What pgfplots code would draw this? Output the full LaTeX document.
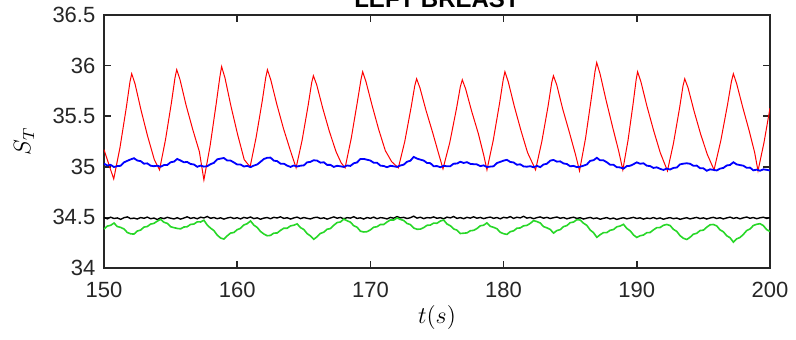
\documentclass[border=0pt]{standalone}
\usepackage[no-math]{fontspec}
\setmainfont{Liberation Sans}
\usepackage{pgfplots}
\usepackage{pgfplotstable}
\pgfplotsset{compat=1.18}
\definecolor{axgray}{RGB}{38,38,38}
\definecolor{sgreen}{RGB}{40,215,40}
\pgfplotstableread{
t y
150.00 35.17
150.25 35.07
150.50 34.97
150.73 34.88
151.20 35.19
151.68 35.59
151.95 35.84
152.08 35.92
152.33 35.82
152.78 35.56
153.28 35.30
153.78 35.07
154.17 34.97
154.62 35.27
155.07 35.64
155.33 35.88
155.46 35.96
155.71 35.86
156.16 35.61
156.66 35.37
157.16 35.15
157.50 34.87
157.97 35.21
158.43 35.63
158.70 35.89
158.83 35.99
159.08 35.88
159.53 35.60
160.03 35.32
160.53 35.07
160.97 35.00
161.42 35.29
161.88 35.65
162.14 35.88
162.27 35.96
162.52 35.86
162.97 35.62
163.47 35.38
163.97 35.17
164.42 34.99
164.87 35.26
165.33 35.61
165.59 35.83
165.72 35.90
165.97 35.81
166.42 35.58
166.92 35.35
167.42 35.15
167.80 35.04
168.10 34.99
168.56 35.28
169.02 35.64
169.29 35.86
169.42 35.94
169.67 35.84
170.12 35.61
170.62 35.37
171.12 35.16
171.60 35.05
172.10 34.99
172.58 35.25
173.06 35.59
173.33 35.80
173.47 35.87
173.72 35.78
174.17 35.56
174.67 35.34
175.10 35.14
175.45 34.98
175.96 35.24
176.47 35.58
176.75 35.79
176.90 35.86
177.15 35.77
177.60 35.55
178.10 35.33
178.50 35.12
178.75 34.97
179.22 35.26
179.70 35.63
179.97 35.86
180.10 35.94
180.35 35.84
180.80 35.60
181.30 35.36
181.80 35.14
182.40 34.97
182.87 35.25
183.34 35.60
183.61 35.83
183.74 35.90
183.99 35.81
184.44 35.57
184.94 35.34
185.40 35.12
185.70 34.96
186.15 35.28
186.60 35.69
186.86 35.94
186.99 36.03
187.24 35.92
187.69 35.66
188.19 35.39
188.65 35.15
188.95 34.97
189.34 35.26
189.73 35.63
189.95 35.86
190.06 35.94
190.31 35.84
190.76 35.60
191.26 35.36
191.76 35.14
192.30 34.96
192.75 35.23
193.21 35.58
193.47 35.80
193.60 35.87
193.85 35.78
194.30 35.55
194.80 35.32
195.30 35.12
195.80 34.97
196.31 35.26
196.82 35.62
197.10 35.84
197.25 35.92
197.50 35.82
197.95 35.59
198.45 35.35
198.85 35.14
199.10 34.96
199.55 35.24
200.00 35.58
}\redtab
\pgfplotstableread{
t y
150.00 35.031
150.25 35.013
150.50 35.019
150.75 34.998
151.00 35.007
151.25 35.010
151.50 35.044
151.75 35.059
152.00 35.073
152.25 35.085
152.50 35.062
152.75 35.056
153.00 35.031
153.25 35.034
153.50 35.011
153.75 35.006
154.00 35.011
154.25 35.001
154.50 35.017
154.75 35.018
155.00 35.045
155.25 35.051
155.50 35.078
155.75 35.062
156.00 35.045
156.25 35.048
156.50 35.028
156.75 35.023
157.00 35.000
157.25 35.012
157.50 35.002
157.75 35.006
158.00 35.026
158.25 35.039
158.50 35.074
158.75 35.081
159.00 35.087
159.25 35.062
159.50 35.062
159.75 35.043
160.00 35.023
160.25 35.023
160.50 35.003
160.75 35.009
161.00 34.997
161.25 35.012
161.50 35.023
161.75 35.049
162.00 35.077
162.25 35.089
162.50 35.091
162.75 35.061
163.00 35.056
163.25 35.031
163.50 35.031
163.75 35.012
164.00 34.999
164.25 35.013
164.50 35.003
164.75 35.011
165.00 35.014
165.25 35.044
165.50 35.049
165.75 35.065
166.00 35.061
166.25 35.041
166.50 35.045
166.75 35.019
167.00 35.019
167.25 34.999
167.50 35.010
167.75 35.005
168.00 34.999
168.25 35.013
168.50 35.009
168.75 35.035
169.00 35.043
169.25 35.078
169.50 35.078
169.75 35.070
170.00 35.062
170.25 35.040
170.50 35.040
170.75 35.012
171.00 35.008
171.25 34.996
171.50 35.010
171.75 35.005
172.00 34.999
172.25 35.013
172.50 35.021
172.75 35.050
173.00 35.060
173.25 35.098
173.50 35.081
173.75 35.071
174.00 35.062
174.25 35.038
174.50 35.036
174.75 35.006
175.00 35.007
175.25 34.996
175.50 35.010
175.75 35.005
176.00 35.006
176.25 35.031
176.50 35.032
176.75 35.050
177.00 35.038
177.25 35.046
177.50 35.029
177.75 35.026
178.00 35.024
178.25 35.007
178.50 35.014
178.75 34.998
179.00 35.002
179.25 35.005
179.50 35.037
179.75 35.049
180.00 35.061
180.25 35.069
180.50 35.048
180.75 35.043
181.00 35.020
181.25 35.025
181.50 35.004
181.75 35.001
182.00 35.006
182.25 34.996
182.50 35.009
182.75 34.997
183.00 35.023
183.25 35.030
183.50 35.061
183.75 35.068
184.00 35.051
184.25 35.054
184.50 35.033
184.75 35.028
185.00 35.005
185.25 35.009
185.50 34.997
185.75 35.001
186.00 35.011
186.25 35.023
186.50 35.059
186.75 35.065
187.00 35.089
187.25 35.064
187.50 35.064
187.75 35.045
188.00 35.020
188.25 35.020
188.50 34.996
188.75 34.994
189.00 34.982
189.25 35.007
189.50 35.010
189.75 35.026
190.00 35.044
190.25 35.030
190.50 35.035
190.75 35.011
191.00 35.007
191.25 34.989
191.50 34.995
191.75 34.980
192.00 34.969
192.25 34.983
192.50 34.973
192.75 34.989
193.00 34.993
193.25 35.024
193.50 35.031
193.75 35.035
194.00 35.030
194.25 35.010
194.50 35.012
194.75 34.986
195.00 34.985
195.25 34.961
195.50 34.975
195.75 34.970
196.00 34.964
196.25 34.982
196.50 34.989
196.75 35.013
197.00 35.018
197.25 35.045
197.50 35.024
197.75 35.017
198.00 35.011
198.25 34.990
198.50 34.992
198.75 34.965
199.00 34.972
199.25 34.961
199.50 34.975
199.75 34.970
200.00 34.964
}\bluetab
\pgfplotstableread{
t y
150.00 34.498
150.25 34.486
150.50 34.502
150.75 34.489
151.00 34.495
151.25 34.481
151.50 34.497
151.75 34.505
152.00 34.488
152.25 34.493
152.50 34.484
152.75 34.499
153.00 34.491
153.25 34.503
153.50 34.487
153.75 34.494
154.00 34.479
154.25 34.496
154.50 34.488
154.75 34.501
155.00 34.492
155.25 34.485
155.50 34.497
155.75 34.483
156.00 34.494
156.25 34.506
156.50 34.490
156.75 34.498
157.00 34.486
157.25 34.502
157.50 34.495
157.75 34.509
158.00 34.491
158.25 34.499
158.50 34.487
158.75 34.496
159.00 34.483
159.25 34.494
159.50 34.501
159.75 34.489
160.00 34.497
160.25 34.485
160.50 34.500
160.75 34.492
161.00 34.504
161.25 34.488
161.50 34.496
161.75 34.482
162.00 34.493
162.25 34.499
162.50 34.487
162.75 34.501
163.00 34.494
163.25 34.506
163.50 34.490
163.75 34.497
164.00 34.484
164.25 34.495
164.50 34.503
164.75 34.488
165.00 34.499
165.25 34.491
165.50 34.485
165.75 34.497
166.00 34.502
166.25 34.489
166.50 34.496
166.75 34.483
167.00 34.494
167.25 34.505
167.50 34.492
167.75 34.500
168.00 34.486
168.25 34.498
168.50 34.493
168.75 34.507
169.00 34.490
169.25 34.496
169.50 34.484
169.75 34.499
170.00 34.491
170.25 34.503
170.50 34.487
170.75 34.498
171.00 34.494
171.25 34.485
171.50 34.500
171.75 34.492
172.00 34.508
172.25 34.495
172.50 34.501
172.75 34.489
173.00 34.497
173.25 34.512
173.50 34.493
173.75 34.502
174.00 34.488
174.25 34.499
174.50 34.494
174.75 34.505
175.00 34.491
175.25 34.498
175.50 34.486
175.75 34.503
176.00 34.495
176.25 34.509
176.50 34.490
176.75 34.499
177.00 34.487
177.25 34.501
177.50 34.493
177.75 34.506
178.00 34.492
178.25 34.500
178.50 34.488
178.75 34.497
179.00 34.503
179.25 34.491
179.50 34.499
179.75 34.486
180.00 34.501
180.25 34.494
180.50 34.508
180.75 34.490
181.00 34.502
181.25 34.495
181.50 34.511
181.75 34.493
182.00 34.500
182.25 34.487
182.50 34.498
182.75 34.505
183.00 34.492
183.25 34.501
183.50 34.489
183.75 34.497
184.00 34.504
184.25 34.491
184.50 34.499
184.75 34.486
185.00 34.495
185.25 34.502
185.50 34.490
185.75 34.497
186.00 34.484
186.25 34.493
186.50 34.500
186.75 34.488
187.00 34.495
187.25 34.482
187.50 34.491
187.75 34.498
188.00 34.485
188.25 34.494
188.50 34.480
188.75 34.490
189.00 34.497
189.25 34.486
189.50 34.493
189.75 34.501
190.00 34.489
190.25 34.496
190.50 34.483
190.75 34.494
191.00 34.488
191.25 34.499
191.50 34.486
191.75 34.495
192.00 34.482
192.25 34.492
192.50 34.498
192.75 34.487
193.00 34.494
193.25 34.481
193.50 34.490
193.75 34.497
194.00 34.485
194.25 34.493
194.50 34.500
194.75 34.488
195.00 34.496
195.25 34.484
195.50 34.494
195.75 34.501
196.00 34.489
196.25 34.497
196.50 34.485
196.75 34.495
197.00 34.503
197.25 34.490
197.50 34.498
197.75 34.486
198.00 34.496
198.25 34.504
198.50 34.491
198.75 34.499
199.00 34.487
199.25 34.496
199.50 34.502
199.75 34.490
200.00 34.497
}\blacktab
\pgfplotstableread{
t y
150.00 34.385
150.25 34.414
150.50 34.422
150.75 34.444
151.00 34.410
151.25 34.401
151.50 34.386
151.75 34.351
152.00 34.338
152.25 34.335
152.50 34.365
152.75 34.375
153.00 34.404
153.25 34.410
153.50 34.434
153.75 34.441
154.00 34.463
154.25 34.481
154.50 34.452
154.75 34.441
155.00 34.408
155.25 34.399
155.50 34.391
155.75 34.387
156.00 34.405
156.25 34.408
156.50 34.431
156.75 34.434
157.00 34.456
157.25 34.455
157.50 34.472
157.75 34.425
158.00 34.394
158.25 34.370
158.50 34.325
158.75 34.297
159.00 34.286
159.25 34.318
159.50 34.345
159.75 34.351
160.00 34.379
160.25 34.392
160.50 34.425
160.75 34.438
161.00 34.465
161.25 34.424
161.50 34.401
161.75 34.361
162.00 34.336
162.25 34.319
162.50 34.322
162.75 34.345
163.00 34.346
163.25 34.372
163.50 34.393
163.75 34.393
164.00 34.416
164.25 34.423
164.50 34.436
164.75 34.399
165.00 34.381
165.25 34.340
165.50 34.317
165.75 34.284
166.00 34.309
166.25 34.342
166.50 34.354
166.75 34.383
167.00 34.390
167.25 34.422
167.50 34.449
167.75 34.455
168.00 34.483
168.25 34.467
168.50 34.453
168.75 34.418
169.00 34.403
169.25 34.364
169.50 34.356
169.75 34.359
170.00 34.377
170.25 34.403
170.50 34.408
170.75 34.430
171.00 34.430
171.25 34.455
171.50 34.475
171.75 34.474
172.00 34.495
172.25 34.480
172.50 34.470
172.75 34.440
173.00 34.429
173.25 34.395
173.50 34.383
173.75 34.384
174.00 34.399
174.25 34.422
174.50 34.424
174.75 34.444
175.00 34.442
175.25 34.464
175.50 34.474
175.75 34.435
176.00 34.418
176.25 34.386
176.50 34.374
176.75 34.341
177.00 34.344
177.25 34.347
177.50 34.368
177.75 34.372
178.00 34.390
178.25 34.417
178.50 34.423
178.75 34.446
179.00 34.412
179.25 34.402
179.50 34.388
179.75 34.353
180.00 34.339
180.25 34.332
180.50 34.359
180.75 34.367
181.00 34.393
181.25 34.396
181.50 34.417
181.75 34.421
182.00 34.441
182.25 34.468
182.50 34.459
182.75 34.445
183.00 34.409
183.25 34.397
183.50 34.381
183.75 34.345
184.00 34.370
184.25 34.379
184.50 34.409
184.75 34.419
185.00 34.448
185.25 34.454
185.50 34.478
185.75 34.474
186.00 34.443
186.25 34.421
186.50 34.376
186.75 34.349
187.00 34.303
187.25 34.329
187.50 34.350
187.75 34.350
188.00 34.373
188.25 34.380
188.50 34.407
188.75 34.415
189.00 34.432
189.25 34.391
189.50 34.368
189.75 34.327
190.00 34.302
190.25 34.319
190.50 34.326
190.75 34.349
191.00 34.351
191.25 34.377
191.50 34.399
191.75 34.400
192.00 34.422
192.25 34.430
192.50 34.420
192.75 34.382
193.00 34.362
193.25 34.319
193.50 34.294
193.75 34.282
194.00 34.304
194.25 34.334
194.50 34.343
194.75 34.370
195.00 34.374
195.25 34.403
195.50 34.427
195.75 34.430
196.00 34.416
196.25 34.377
196.50 34.358
196.75 34.319
197.00 34.299
197.25 34.256
197.50 34.288
197.75 34.302
198.00 34.332
198.25 34.370
198.50 34.386
198.75 34.420
199.00 34.432
199.25 34.438
199.50 34.419
199.75 34.379
200.00 34.361
}\greentab
\begin{document}
\begin{tikzpicture}
\begin{axis}[
  scale only axis,
  width=333pt, height=126.5pt,
  xmin=150, xmax=200, ymin=34, ymax=36.5,
  xtick={150,160,170,180,190,200},
  ytick={34,34.5,35,35.5,36,36.5},
  tick align=inside,
  major tick length=3.5pt,
  axis line style={line width=1pt, color=axgray},
  every tick/.style={axgray, line width=0.8pt},
  /pgf/number format/assume math mode=true,
  tick label style={font=\fontsize{11}{13}\selectfont, color=axgray},
  xticklabel style={yshift=-3.5pt},
  yticklabel style={xshift=-0.8pt},
  xlabel={$t(s)$}, ylabel={$S_T$},
  label style={font=\fontsize{12}{14}\selectfont},
  xlabel style={at={(axis description cs:0.5,-0.1957)}, anchor=center},
  ylabel style={at={(axis description cs:-0.1201,0.5)}, anchor=center},
  title={LEFT BREAST},
  every axis title/.style={font=\bfseries\fontsize{12}{12}\selectfont, at={(axis description cs:0.5,1)}, anchor=base, yshift=4pt},
]
\addplot[color=red, line width=0.5pt] table[x=t,y=y] {\redtab};
\addplot[color=blue, line width=0.9pt] table[x=t,y=y] {\bluetab};
\addplot[color=black, line width=0.7pt] table[x=t,y=y] {\blacktab};
\addplot[color=sgreen, line width=0.8pt] table[x=t,y=y] {\greentab};
\end{axis}
\pgfresetboundingbox
\path[use as bounding box] ([xshift=-52pt,yshift=-35.5pt]current axis.south west) rectangle ([xshift=13pt,yshift=7.5pt]current axis.north east);
\end{tikzpicture}
\end{document}
